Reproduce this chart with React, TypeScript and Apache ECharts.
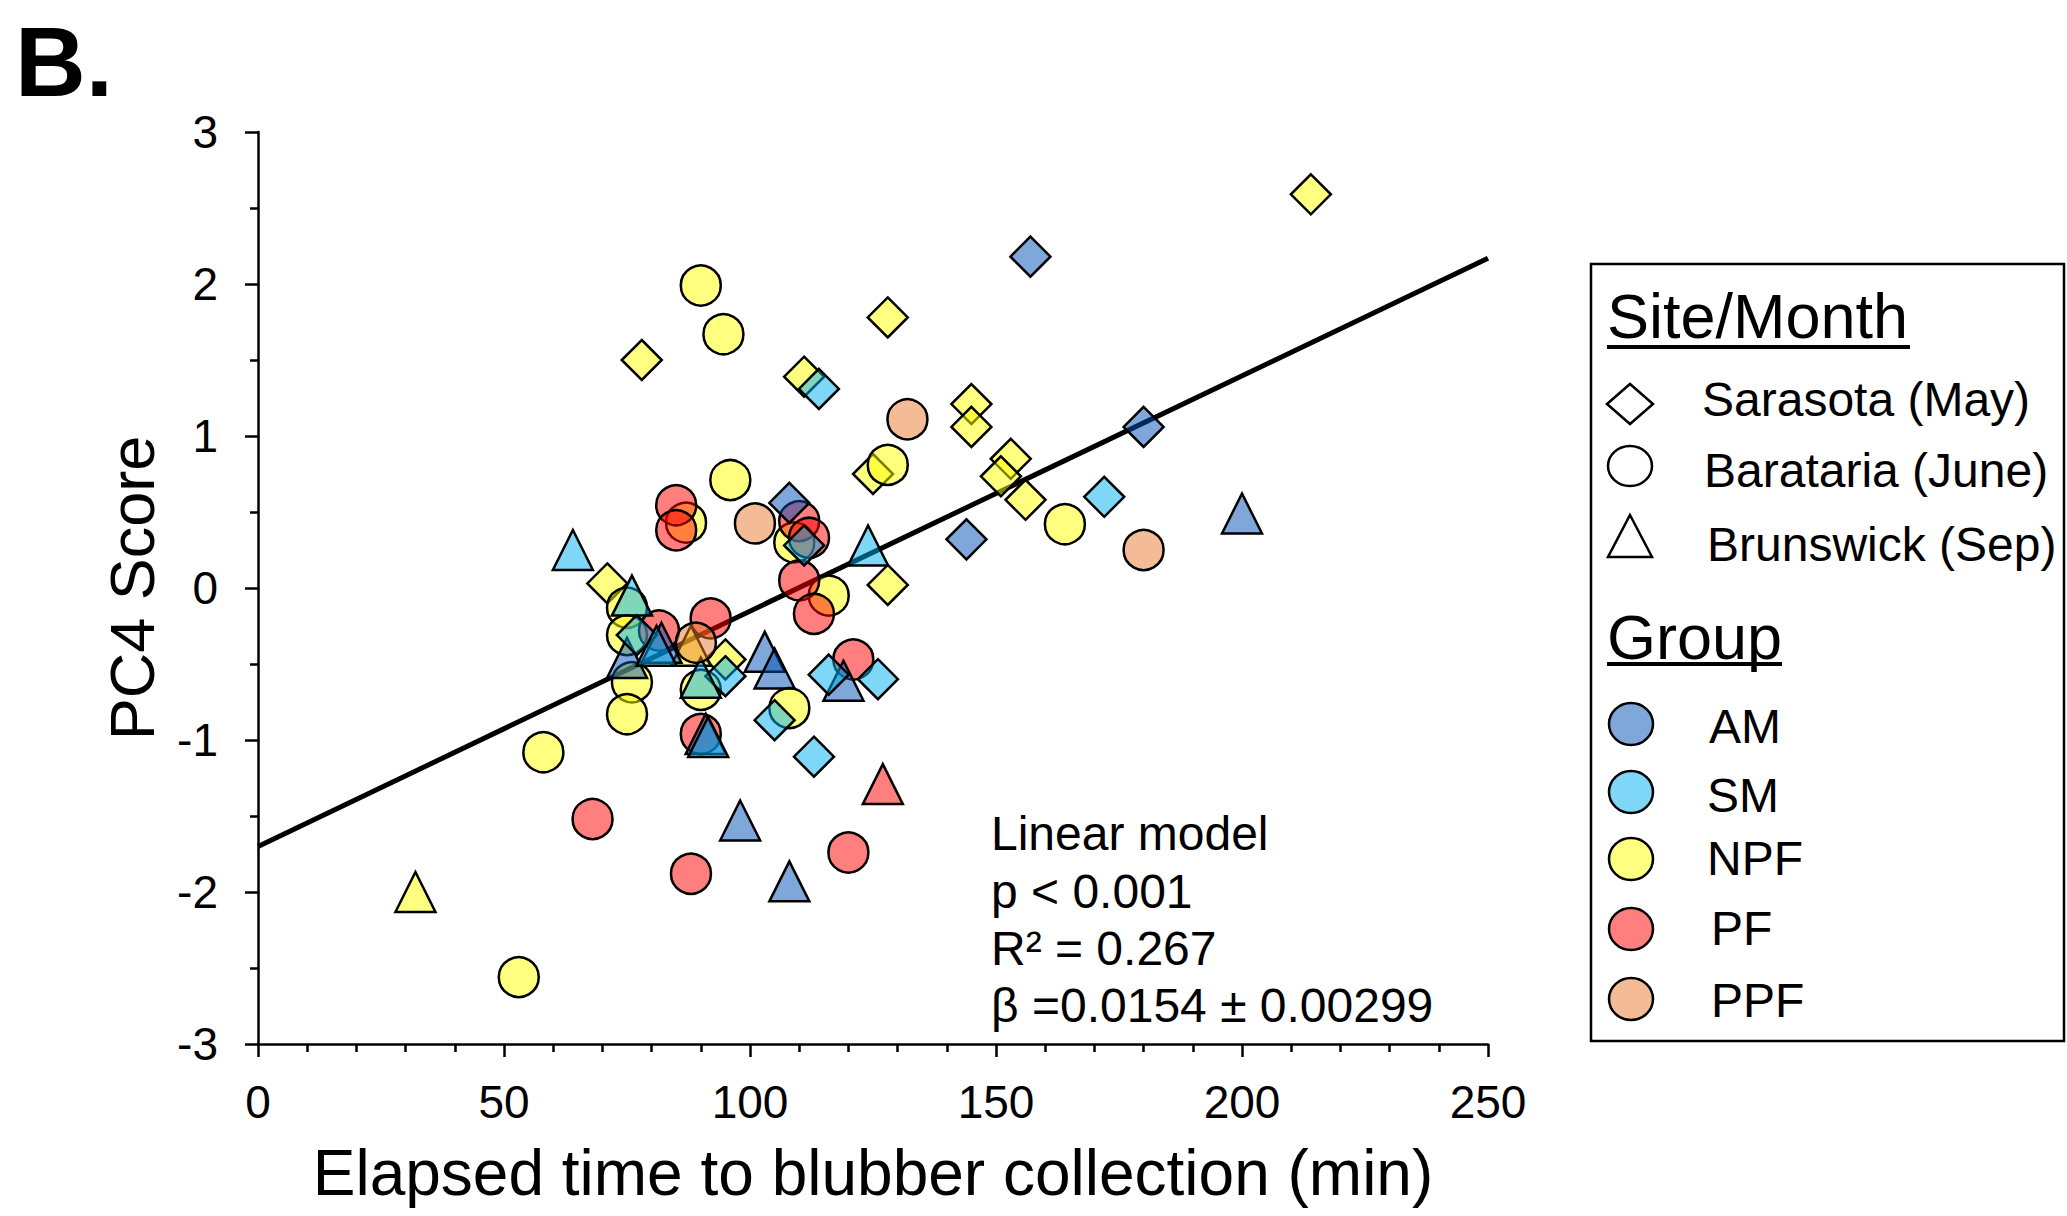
import React, { useEffect, useRef } from "react";
import * as echarts from "echarts";

// ---- data ----
// site index: 0 = Sarasota (May, diamond), 1 = Barataria (June, circle), 2 = Brunswick (Sep, triangle)
const SITE_NAMES = ["Sarasota (May)", "Barataria (June)", "Brunswick (Sep)"];
const SITE_SYMBOLS = ["diamond", "circle", "triangle"];
const GROUP_NAMES = ["AM", "SM", "NPF", "PF", "PPF"];

// [elapsed time (min), PC4 score, site]
const AM_POINTS = [
  [157, 2.18, 0], [180, 1.06, 0], [144, 0.32, 0], [108, 0.56, 0],
  [200, 0.49, 2], [75, -0.46, 2], [82, -0.36, 2], [103, -0.42, 2], [105, -0.53, 2],
  [119, -0.61, 2], [91, -0.96, 2], [98, -1.53, 2], [108, -1.93, 2],
];
const SM_POINTS = [
  [114, 1.31, 0], [172, 0.6, 0], [111, 0.28, 0], [77, -0.31, 0], [95, -0.58, 0],
  [116, -0.57, 0], [126, -0.6, 0], [105, -0.87, 0], [113, -1.11, 0],
  [64, 0.25, 2], [124, 0.28, 2], [76, -0.05, 2], [81, -0.38, 2], [90, -0.59, 2], [91.5, -0.98, 2],
];
const NPF_POINTS = [
  [214, 2.59, 0], [128, 1.78, 0], [78, 1.5, 0], [111, 1.39, 0], [145, 1.21, 0], [145, 1.06, 0],
  [153, 0.85, 0], [151, 0.735, 0], [156, 0.58, 0], [125, 0.75, 0], [71, 0.03, 0], [128, 0.02, 0],
  [95, -0.47, 0],
  [90, 1.99, 1], [94.6, 1.67, 1], [96, 0.71, 1], [128, 0.81, 1], [164, 0.42, 1], [87, 0.43, 1],
  [109, 0.3, 1], [116, -0.05, 1], [75, -0.13, 1], [75, -0.31, 1], [76, -0.62, 1], [75, -0.83, 1],
  [90, -0.67, 1], [108, -0.79, 1], [58, -1.08, 1], [53, -2.56, 1],
  [32, -2.0, 2], [88, -0.38, 2],
];
const PF_POINTS = [
  [85, 0.545, 1], [85, 0.38, 1], [110, 0.44, 1], [112, 0.33, 1], [110, 0.05, 1], [113, -0.17, 1],
  [81.5, -0.28, 1], [92, -0.2, 1], [121, -0.47, 1], [90, -0.96, 1], [68, -1.52, 1],
  [120, -1.74, 1], [88, -1.88, 1],
  [127, -1.29, 2],
];
const PPF_POINTS = [
  [132, 1.11, 1], [101, 0.425, 1], [180, 0.25, 1], [89, -0.36, 1],
];

// fitted linear model end points
const FIT_LINE = [[0, -1.7], [250, 2.17]];

const MODEL_TEXT = ["Linear model", "p < 0.001", "R\u00b2 = 0.267", "\u03b2 =0.0154 \u00b1 0.00299"];

// ---- styles ----
const FONT = "'Liberation Sans', Arial, Helvetica, sans-serif";
const GROUP_FILLS: Record<string, string> = {
  AM: "rgba(0,79,179,0.5)",
  SM: "rgba(0,175,239,0.5)",
  NPF: "rgba(255,255,0,0.5)",
  PF: "rgba(255,0,0,0.5)",
  PPF: "rgba(233,121,45,0.5)",
};
const GROUP_DATA: Record<string, number[][]> = {
  AM: AM_POINTS,
  SM: SM_POINTS,
  NPF: NPF_POINTS,
  PF: PF_POINTS,
  PPF: PPF_POINTS,
};
const DRAW_ORDER = ["NPF", "PF", "AM", "SM", "PPF"];

function buildOption() {
  const scatterSeries = DRAW_ORDER.map((g) => ({
    type: "scatter",
    name: g,
    data: GROUP_DATA[g],
    symbol: (v: number[]) => SITE_SYMBOLS[v[2]],
    symbolSize: 40,
    itemStyle: { color: GROUP_FILLS[g], borderColor: "#000", borderWidth: 2.5, opacity: 1 },
    emphasis: { disabled: true },
    silent: true,
    z: 3,
  }));

  const graphics: any[] = [];
  // panel letter
  graphics.push({
    type: "text",
    x: 15,
    y: 62,
    style: { text: "B.", fontSize: 98, fontWeight: "bold", fontFamily: FONT, fill: "#000", align: "left", verticalAlign: "middle" },
  });
  // model annotation
  const modelY = [833, 891, 948, 1005];
  MODEL_TEXT.forEach((t, i) => {
    graphics.push({
      type: "text",
      x: 991,
      y: modelY[i],
      style: { text: t, fontSize: 48, fontFamily: FONT, fill: "#000", align: "left", verticalAlign: "middle" },
    });
  });

  // legend box
  graphics.push({
    type: "rect",
    shape: { x: 1591, y: 264, width: 473, height: 777 },
    style: { fill: "#fff", stroke: "#000", lineWidth: 2.5 },
    z: 1,
  });
  const hdr = (text: string, y: number, x2: number, uy: number) => {
    graphics.push({
      type: "text",
      x: 1607,
      y,
      style: { text, fontSize: 63, fontFamily: FONT, fill: "#000", align: "left", verticalAlign: "middle" },
      z: 2,
    });
    graphics.push({
      type: "line",
      shape: { x1: 1607, y1: uy, x2, y2: uy },
      style: { stroke: "#000", lineWidth: 4 },
      z: 2,
    });
  };
  hdr("Site/Month", 316, 1910, 347);
  hdr("Group", 637, 1782, 664);

  const sx = 1630;
  const siteSymY = [404, 466, 536];
  const siteTextY = [399, 470, 544];
  const siteTextX = [1702, 1704, 1707];
  SITE_NAMES.forEach((name, i) => {
    const cy = siteSymY[i];
    const st = { fill: "#fff", stroke: "#000", lineWidth: 2.5 };
    if (i === 0) {
      graphics.push({ type: "polygon", shape: { points: [[sx - 23, cy], [sx, cy - 20], [sx + 23, cy], [sx, cy + 20]] }, style: st, z: 2 });
    } else if (i === 1) {
      graphics.push({ type: "ellipse", shape: { cx: sx, cy, rx: 22, ry: 20 }, style: st, z: 2 });
    } else {
      graphics.push({ type: "polygon", shape: { points: [[sx, cy - 21], [sx + 22, cy + 21], [sx - 22, cy + 21]] }, style: st, z: 2 });
    }
    graphics.push({
      type: "text",
      x: siteTextX[i],
      y: siteTextY[i],
      style: { text: name, fontSize: 48, fontFamily: FONT, fill: "#000", align: "left", verticalAlign: "middle" },
      z: 2,
    });
  });
  const grpSymY = [724, 792, 859, 929, 999];
  const grpTextY = [726, 795, 858, 928, 1000];
  const grpTextX = [1709, 1707, 1707, 1711, 1711];
  GROUP_NAMES.forEach((g, i) => {
    graphics.push({
      type: "ellipse",
      shape: { cx: sx + 1, cy: grpSymY[i], rx: 22, ry: 21 },
      style: { fill: GROUP_FILLS[g], stroke: "#000", lineWidth: 2.5 },
      z: 2,
    });
    graphics.push({
      type: "text",
      x: grpTextX[i],
      y: grpTextY[i],
      style: { text: g, fontSize: 48, fontFamily: FONT, fill: "#000", align: "left", verticalAlign: "middle" },
      z: 2,
    });
  });

  const axisCommon = {
    axisLine: { show: true, onZero: false, lineStyle: { color: "#000", width: 2.5 } },
    axisTick: { show: true, inside: false, length: 13, lineStyle: { color: "#000", width: 2.5 } },
    minorTick: { show: true, length: 8, lineStyle: { color: "#000", width: 2.5 } },
    splitLine: { show: false },
    minorSplitLine: { show: false },
  };

  return {
    animation: false,
    backgroundColor: "#fff",
    grid: { left: 258, right: 579, top: 132, bottom: 172, containLabel: false },
    xAxis: {
      type: "value",
      min: 0,
      max: 250,
      interval: 50,
      ...axisCommon,
      minorTick: { ...axisCommon.minorTick, splitNumber: 5 },
      axisLabel: { color: "#000", fontSize: 46, fontFamily: FONT, margin: 35 },
      name: "Elapsed time to blubber collection (min)",
      nameLocation: "middle",
      nameGap: 97,
      nameTextStyle: { color: "#000", fontSize: 64, fontFamily: FONT },
    },
    yAxis: {
      type: "value",
      min: -3,
      max: 3,
      interval: 1,
      ...axisCommon,
      minorTick: { ...axisCommon.minorTick, splitNumber: 2 },
      axisLabel: { color: "#000", fontSize: 46, fontFamily: FONT, margin: 40 },
      name: "PC4 Score",
      nameLocation: "middle",
      nameRotate: 90,
      nameGap: 95,
      nameTextStyle: { color: "#000", fontSize: 63, fontFamily: FONT },
    },
    series: [
      {
        type: "line",
        data: FIT_LINE,
        symbol: "none",
        lineStyle: { color: "#000", width: 5 },
        silent: true,
        z: 2,
      },
      ...scatterSeries,
    ],
    graphic: { elements: graphics },
  };
}

export default function App() {
  const ref = useRef<HTMLDivElement>(null);
  useEffect(() => {
    document.body.style.margin = "0";
    const chart = echarts.init(ref.current as HTMLDivElement, null, { renderer: "svg" });
    chart.setOption(buildOption() as any);
    return () => chart.dispose();
  }, []);
  return <div ref={ref} style={{ width: 2067, height: 1216 }} />;
}
